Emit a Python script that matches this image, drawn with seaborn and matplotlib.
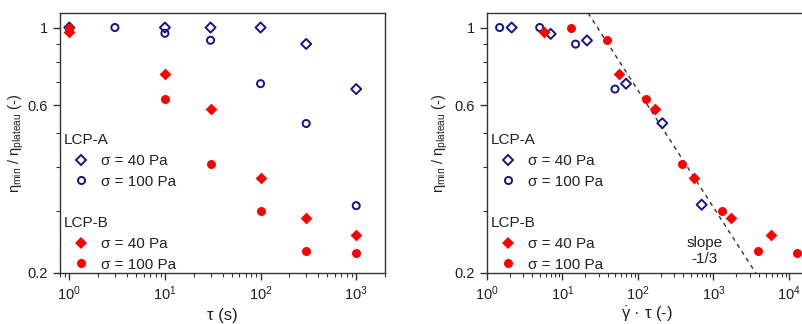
import numpy as np
import pandas as pd
import matplotlib
matplotlib.use("Agg")
import matplotlib.pyplot as plt
from matplotlib.lines import Line2D
import seaborn as sns

# ---------------- data ----------------
# Left panel: eta_min/eta_plateau vs tau (s)
tau_A40 = [1, 10, 30, 100, 300, 1000]
val_A40 = [1.0, 1.0, 1.0, 1.0, 0.898, 0.668]
tau_A100 = [3, 10, 30, 100, 300, 1000]
val_A100 = [1.0, 0.963, 0.920, 0.692, 0.533, 0.311]
tau_B40 = [1, 10, 30, 100, 300, 1000]
val_B40 = [0.97, 0.739, 0.587, 0.373, 0.286, 0.257]
tau_B100 = [1, 10, 30, 100, 300, 1000]
val_B100 = [1.0, 0.627, 0.408, 0.301, 0.231, 0.228]

# Right panel: eta_min/eta_plateau vs gamma_dot * tau (-)
gt_A40 = [2.12, 6.97, 21.1, 69.4, 210, 697]
rv_A40 = [1.0, 0.959, 0.919, 0.692, 0.534, 0.313]
gt_A100 = [1.47, 4.99, 14.9, 49.6]
rv_A100 = [1.0, 1.0, 0.897, 0.668]
gt_B40 = [5.63, 56, 170, 552, 1690, 5720]
rv_B40 = [0.97, 0.739, 0.587, 0.373, 0.286, 0.257]
gt_B100 = [12.8, 38.5, 129, 387, 1283, 3884, 12900]
rv_B100 = [1.0, 0.919, 0.627, 0.408, 0.301, 0.231, 0.228]

# power-law guide line: slope -1/3 through an anchor point
slope = -1.0 / 3.0
anchor_x, anchor_y = 23.4, 1.075
guide_x = [15, 6000]

y_major = [0.2, 0.6, 1.0]
y_major_labels = ["0.2", "0.6", "1"]
y_minor = [0.3, 0.4, 0.5, 0.7, 0.8, 0.9]

legend_groups = ["LCP-A", "LCP-B"]
legend_labels = ["σ = 40 Pa", "σ = 100 Pa"]
slope_text = "slope\n-1/3"

# ---------------- style ----------------
sns.set_style("ticks")
plt.rcParams["font.family"] = ["Liberation Sans", "DejaVu Sans"]
plt.rcParams["mathtext.fontset"] = "custom"
plt.rcParams["mathtext.rm"] = "Liberation Sans"
plt.rcParams["mathtext.it"] = "Liberation Sans:italic"
plt.rcParams["mathtext.sf"] = "Liberation Sans"

NAVY = "#14148c"
RED = "#ff0000"
TXT = "#222222"

W, H = 802, 324
fig = plt.figure(figsize=(W / 100, H / 100), dpi=100)
axL = fig.add_axes([60 / W, (H - 273) / H, 325 / W, 260 / H])
axR = fig.add_axes([487 / W, (H - 273) / H, 319 / W, 260 / H])

open_kw = dict(facecolor="none", linewidth=1.4, zorder=3)
fill_kw = dict(linewidth=0, zorder=3)
S_D_OPEN, S_O_OPEN, S_D_FILL, S_O_FILL = 26, 26, 36, 42


def draw(ax, xa40, ya40, xa100, ya100, xb40, yb40, xb100, yb100):
    sns.scatterplot(x=xa40, y=ya40, ax=ax, marker="D", s=S_D_OPEN,
                    edgecolor=NAVY, **open_kw)
    sns.scatterplot(x=xa100, y=ya100, ax=ax, marker="o", s=S_O_OPEN,
                    edgecolor=NAVY, **open_kw)
    sns.scatterplot(x=xb40, y=yb40, ax=ax, marker="D", s=S_D_FILL,
                    color=RED, **fill_kw)
    sns.scatterplot(x=xb100, y=yb100, ax=ax, marker="o", s=S_O_FILL,
                    color=RED, **fill_kw)


draw(axL, tau_A40, val_A40, tau_A100, val_A100, tau_B40, val_B40, tau_B100, val_B100)
draw(axR, gt_A40, rv_A40, gt_A100, rv_A100, gt_B40, rv_B40, gt_B100, rv_B100)

gx = np.array(guide_x, dtype=float)
gy = anchor_y * (gx / anchor_x) ** slope
sns.lineplot(x=gx, y=gy, ax=axR, color="#333333", linewidth=1.0,
             linestyle=(0, (3, 3)), zorder=2)
axR.text(764, 0.231, slope_text, ha="center", va="center", fontsize=11,
         color=TXT, linespacing=1.25)

for ax, xlim in ((axL, (0.8, 2000)), (axR, (1, 16800))):
    ax.set_xscale("log")
    ax.set_yscale("log")
    ax.set_xlim(*xlim)
    ax.set_ylim(0.2, 1.1)
    ax.set_yticks(y_major)
    ax.set_yticklabels(y_major_labels)
    ax.set_yticks(y_minor, minor=True)
    ax.yaxis.set_minor_formatter(plt.NullFormatter())
    ax.tick_params(which="major", length=5, width=1, colors="#333333",
                   labelcolor=TXT, labelsize=10.5, direction="out")
    ax.tick_params(which="minor", length=3, width=0.8, colors="#333333",
                   direction="out")
    for sp in ax.spines.values():
        sp.set_color("#333333")
        sp.set_linewidth(1.0)
    ax.set_ylabel(r"$\mathrm{\eta_{min}}$ / $\mathrm{\eta_{plateau}}$ (-)",
                  fontsize=10.5, color=TXT)

axL.yaxis.set_label_coords((26 - 60) / 325, 0.5)
axR.yaxis.set_label_coords((450 - 487) / 319, 0.5)

axR.spines["right"].set_visible(False)
axL.set_xlabel("τ (s)", fontsize=12, color=TXT, labelpad=3)
axR.set_xlabel(r"$\mathrm{\dot{\gamma}}$ · τ (-)", fontsize=12, color=TXT, labelpad=1)

# legends
def legends(ax, width_px):
    hA = [Line2D([], [], linestyle="none", marker="D", markersize=np.sqrt(S_D_OPEN),
                 markerfacecolor="none", markeredgecolor=NAVY, markeredgewidth=1.4),
          Line2D([], [], linestyle="none", marker="o", markersize=np.sqrt(S_O_OPEN),
                 markerfacecolor="none", markeredgecolor=NAVY, markeredgewidth=1.4)]
    hB = [Line2D([], [], linestyle="none", marker="D", markersize=np.sqrt(S_D_FILL),
                 markerfacecolor=RED, markeredgewidth=0),
          Line2D([], [], linestyle="none", marker="o", markersize=np.sqrt(S_O_FILL),
                 markerfacecolor=RED, markeredgewidth=0)]
    common = dict(loc="upper left", frameon=False, fontsize=11, title_fontsize=11,
                  alignment="left", borderpad=0, borderaxespad=0,
                  handlelength=2.2, handletextpad=0.25, labelspacing=0.45)
    xa = 4.0 / width_px
    lA = ax.legend(hA, legend_labels, title=legend_groups[0],
                   bbox_to_anchor=(xa, (273 - 133) / 260), **common)
    ax.add_artist(lA)
    lB = ax.legend(hB, legend_labels, title=legend_groups[1],
                   bbox_to_anchor=(xa, (273 - 216) / 260), **common)
    for lg in (lA, lB):
        lg.get_title().set_color(TXT)
        for t in lg.get_texts():
            t.set_color(TXT)


legends(axL, 325)
legends(axR, 319)

fig.savefig("out.png", dpi=100)
